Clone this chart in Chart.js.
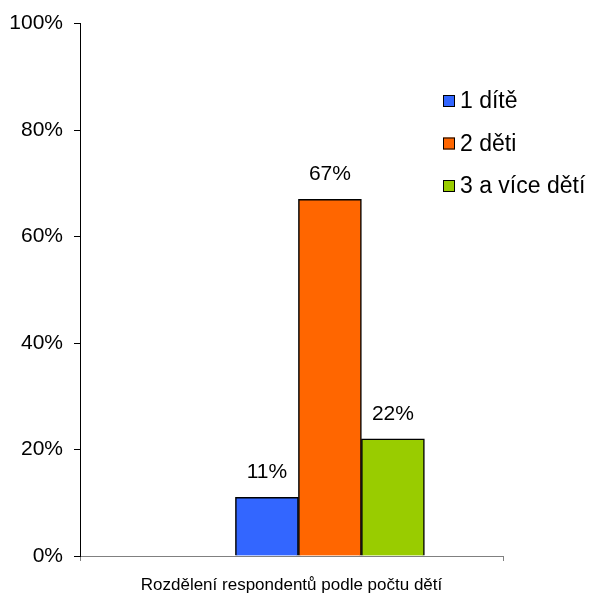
<!DOCTYPE html>
<html>
<head>
<meta charset="utf-8">
<script src="https://cdn.jsdelivr.net/npm/chart.js@4/dist/chart.umd.min.js"></script>
<style>
  html, body { margin: 0; padding: 0; background: #ffffff; }
  #wrap { width: 605px; height: 598px; }
</style>
</head>
<body>
<div id="wrap"><canvas id="chart" width="605" height="598"></canvas></div>
<script>
// Survey: respondents split by number of children
const categories = ['Rozdělení respondentů podle počtu dětí'];
const seriesNames = ['1 dítě', '2 děti', '3 a více dětí'];
const seriesValues = [11, 67, 22];
const seriesColors = ['#3366FF', '#FF6600', '#99CC00'];
const yTickValues = [0, 20, 40, 60, 80, 100];

const FONT = '"Liberation Sans", Arial, sans-serif';

// Percent labels above each bar
const valueLabels = {
  id: 'valueLabels',
  afterDatasetsDraw(chart) {
    const ctx = chart.ctx;
    ctx.save();
    ctx.font = '21px ' + FONT;
    ctx.fillStyle = '#000000';
    ctx.textAlign = 'center';
    ctx.textBaseline = 'middle';
    chart.data.datasets.forEach((ds, i) => {
      const meta = chart.getDatasetMeta(i);
      meta.data.forEach((bar, j) => {
        const v = ds.data[j].y;
        ctx.fillText(v + '%', bar.x, bar.y - 25);
      });
    });
    ctx.restore();
  }
};

// Legend drawn inside the plot, top right
const insideLegend = {
  id: 'insideLegend',
  afterDraw(chart) {
    const ctx = chart.ctx;
    ctx.save();
    ctx.font = '23px ' + FONT;
    ctx.textAlign = 'left';
    ctx.textBaseline = 'middle';
    chart.data.datasets.forEach((ds, i) => {
      const cy = 101 + i * 42.5;
      ctx.fillStyle = ds.backgroundColor;
      ctx.fillRect(443, cy - 6, 12, 12);
      ctx.strokeStyle = '#000000';
      ctx.lineWidth = 1;
      ctx.strokeRect(443.5, cy - 5.5, 11, 11);
      ctx.fillStyle = '#000000';
      ctx.fillText(ds.label, 460, cy + 1);
    });
    ctx.restore();
  }
};

const datasets = seriesNames.map((name, i) => ({
  label: name,
  data: [{ x: 0, y: seriesValues[i] }],
  xAxisID: 'xb',
  backgroundColor: seriesColors[i],
  borderColor: '#000000',
  borderWidth: 1.5,
  barThickness: 63
}));

new Chart(document.getElementById('chart'), {
  type: 'bar',
  data: { labels: categories, datasets },
  plugins: [valueLabels, insideLegend],
  options: {
    responsive: false,
    animation: false,
    layout: { padding: { left: 0, top: 22, right: 102, bottom: 0 } },
    plugins: { legend: { display: false }, tooltip: { enabled: false } },
    scales: {
      x: {
        type: 'category',
        labels: categories,
        offset: true,
        grid: { display: true, drawOnChartArea: false, drawTicks: true, tickLength: 5, color: '#808080', offset: true },
        border: { display: true, color: '#808080', width: 1 },
        ticks: { color: '#000000', font: { family: FONT, size: 17 }, padding: 14 },
        afterFit(scale) { scale.height = 42; }
      },
      xb: {
        type: 'linear',
        axis: 'x',
        display: false,
        min: -0.609,
        max: 0.391
      },
      y: {
        min: 0,
        max: 100,
        afterBuildTicks(scale) { scale.ticks = yTickValues.map(v => ({ value: v })); },
        ticks: {
          color: '#000000',
          font: { family: FONT, size: 21 },
          padding: 11,
          callback: v => v + '%'
        },
        grid: { display: true, drawOnChartArea: false, drawTicks: true, tickLength: 6, color: '#000000' },
        border: { display: true, color: '#000000', width: 1 },
        afterFit(scale) { scale.width = 80; }
      }
    }
  }
});
</script>
</body>
</html>
